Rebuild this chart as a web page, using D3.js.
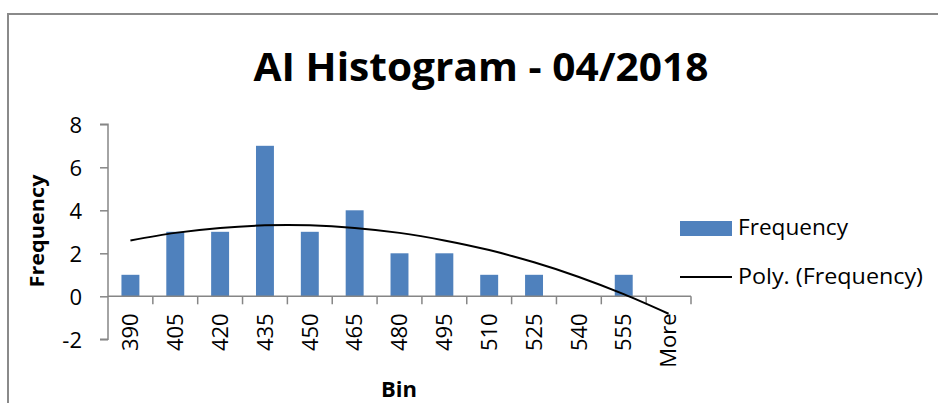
<!DOCTYPE html>
<html><head><meta charset="utf-8">
<script src="https://cdn.jsdelivr.net/npm/d3@7"></script>
<style>html,body{margin:0;padding:0;background:#fff;}svg{display:block;}</style>
</head><body>
<svg id="chart" width="938" height="403"></svg>
<script>
const categories = ["390","405","420","435","450","465","480","495","510","525","540","555","More"];
const frequency = [1,3,3,7,3,4,2,2,1,1,0,1,0];
// polynomial (order 2) trendline values at each bin centre
const trendValues = [2.6,2.95,3.18,3.3,3.3,3.18,2.95,2.6,2.15,1.58,0.9,0.1,-0.81];
const yTicks = [-2,0,2,4,6,8];
const titleText = "AI Histogram - 04/2018";
const xTitle = "Bin", yTitle = "Frequency";
const legendLabels = ["Frequency","Poly. (Frequency)"];

const FONT = "'Open Sans', 'Liberation Sans', sans-serif";
const svg = d3.select("#chart");
const axisColor = "#868686";
const barColor = "#4F81BD";

// chart border
svg.append("path").attr("d","M8,403V14H938").attr("fill","none")
  .attr("stroke","#8a8a8a").attr("stroke-width",2);

const x = d3.scaleBand().domain(categories).range([108,691]).paddingInner(0).paddingOuter(0);
const y = d3.scaleLinear().domain([-2,8]).range([339.3,124.3]);

// y axis
const yAxis = d3.axisLeft(y).tickValues(yTicks).tickSize(8).tickFormat(d=>String(d));
const gy = svg.append("g").attr("transform","translate(108,0)").call(yAxis);
gy.select(".domain").attr("stroke",axisColor).attr("stroke-width",1.5).attr("d","M-8,"+y(8)+"H0V"+y(-2)+"H-8");
gy.selectAll(".tick line").attr("stroke",axisColor).attr("stroke-width",1.5);
gy.selectAll(".tick text").attr("x",-26).attr("dy","0.35em").attr("fill","#000")
  .style("font-family",FONT).style("font-size","22px");

// bars
const bw = x.bandwidth()*0.4;
svg.append("g").selectAll("rect").data(frequency).join("rect")
  .attr("x",(d,i)=>x(categories[i])+x.bandwidth()/2-bw/2)
  .attr("width",bw)
  .attr("y",d=>y(Math.max(0,d)))
  .attr("height",d=>Math.abs(y(d)-y(0)))
  .attr("fill",barColor);

// x axis at y=0
const xAxis = d3.axisBottom(x).tickSize(0).tickFormat(d=>d);
const gx = svg.append("g").attr("transform","translate(0,"+y(0)+")").call(xAxis);
gx.select(".domain").attr("stroke",axisColor).attr("stroke-width",1.5).attr("d","M108,0H691");
gx.selectAll(".tick text").attr("transform","rotate(-90)").attr("text-anchor","end")
  .attr("x",-17).attr("y",0).attr("dy","0.35em").attr("fill","#000")
  .style("font-family",FONT).style("font-size","22px");
// category separator ticks
gx.append("g").selectAll("line").data(categories).join("line")
  .attr("x1",(d,i)=>x(d)+x.step()).attr("x2",(d,i)=>x(d)+x.step())
  .attr("y1",0).attr("y2",8).attr("stroke",axisColor).attr("stroke-width",1.5);

// trendline
const line = d3.line().x((d,i)=>x(categories[i])+x.bandwidth()/2).y(d=>y(d)).curve(d3.curveCatmullRom);
svg.append("path").datum(trendValues).attr("d",line).attr("fill","none")
  .attr("stroke","#000").attr("stroke-width",2);

// title
svg.append("text").attr("x",481).attr("y",81).attr("text-anchor","middle")
  .style("font-family",FONT).style("font-weight","bold").style("font-size","39px")
  .attr("textLength",455).attr("lengthAdjust","spacingAndGlyphs").text(titleText);

// axis titles
svg.append("text").attr("transform","translate(44,231) rotate(-90)").attr("text-anchor","middle")
  .style("font-family",FONT).style("font-weight","bold").style("font-size","20px")
  .attr("textLength",113).attr("lengthAdjust","spacingAndGlyphs").text(yTitle);
svg.append("text").attr("x",399).attr("y",397).attr("text-anchor","middle")
  .style("font-family",FONT).style("font-weight","bold").style("font-size","22px").text(xTitle);

// legend
const lg = svg.append("g");
lg.append("rect").attr("x",680).attr("y",221).attr("width",52).attr("height",15).attr("fill",barColor);
lg.append("text").attr("x",738).attr("y",228).attr("dy","0.35em")
  .style("font-family",FONT).style("font-size","21px")
  .attr("textLength",110).attr("lengthAdjust","spacingAndGlyphs").text(legendLabels[0]);
lg.append("line").attr("x1",680).attr("x2",732).attr("y1",277).attr("y2",277).attr("stroke","#000").attr("stroke-width",2);
lg.append("text").attr("x",738).attr("y",277).attr("dy","0.35em")
  .style("font-family",FONT).style("font-size","21px")
  .attr("textLength",185).attr("lengthAdjust","spacingAndGlyphs").text(legendLabels[1]);
</script>
</body></html>
